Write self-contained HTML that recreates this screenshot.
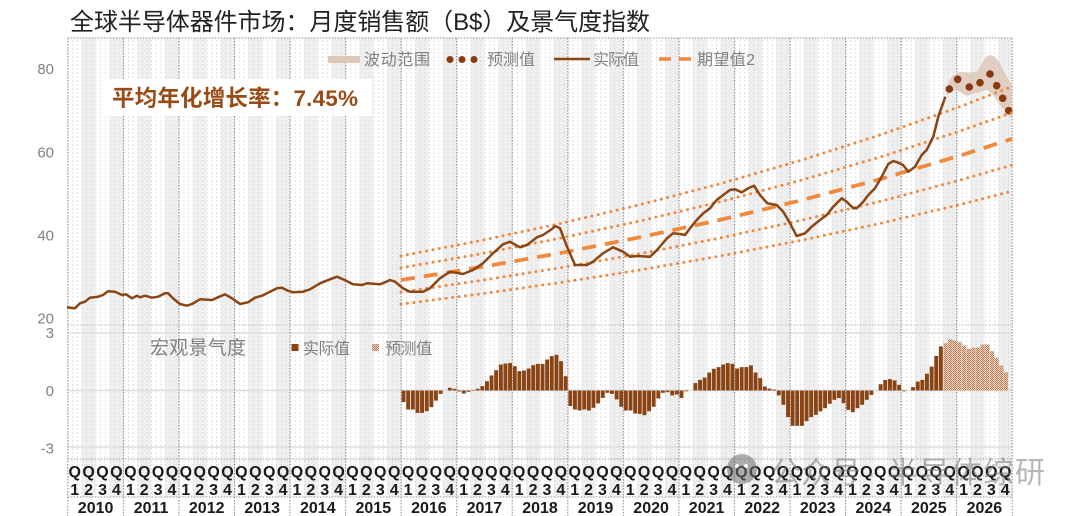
<!DOCTYPE html>
<html><head><meta charset="utf-8"><style>
html,body{margin:0;padding:0;background:#fff;}
svg{display:block;}
text{font-family:"Liberation Sans","Noto Sans CJK SC",sans-serif;}
</style></head><body>
<svg width="1080" height="516" viewBox="0 0 1080 516" xmlns="http://www.w3.org/2000/svg">
<defs>
<pattern id="qs" x="67.8" y="0" width="27.775" height="10" patternUnits="userSpaceOnUse"><rect x="13.8875" y="0" width="13.8875" height="10" fill="#efefef"/></pattern>
<pattern id="mg" x="67.8" y="0" width="4.632" height="4" patternUnits="userSpaceOnUse"><rect x="0" y="0" width="0.8" height="2" fill="#dadada"/></pattern>
<pattern id="hatch" x="0" y="0" width="2" height="2" patternUnits="userSpaceOnUse"><rect width="2" height="2" fill="#ecd3c2"/><rect width="1" height="1" fill="#b9784f"/><rect x="1" y="1" width="1" height="1" fill="#b9784f"/></pattern>
</defs>

<!-- title -->
<text x="70" y="30" font-size="24" fill="#222" textLength="580">全球半导体器件市场：月度销售额（B$）及景气度指数</text>

<!-- background stripes -->
<rect x="67.8" y="38" width="944.4" height="459" fill="url(#qs)"/>
<rect x="67.8" y="38" width="944.4" height="459" fill="url(#mg)"/>

<!-- horizontal lines -->
<line x1="67.8" y1="38" x2="1012.2" y2="38" stroke="#8c8c8c" stroke-width="1" stroke-dasharray="1.5 1.5"/>
<line x1="67.8" y1="325" x2="1012.2" y2="325" stroke="#bdbdbd" stroke-width="1" stroke-dasharray="1.5 1.5"/>
<line x1="67.8" y1="333" x2="1012.2" y2="333" stroke="#dedede" stroke-width="1.5"/>
<line x1="67.8" y1="390.5" x2="1012.2" y2="390.5" stroke="#dedede" stroke-width="1.5"/>
<line x1="67.8" y1="447" x2="1012.2" y2="447" stroke="#dedede" stroke-width="1.5"/>
<line x1="67.8" y1="459" x2="1012.2" y2="459" stroke="#9a9a9a" stroke-width="1" stroke-dasharray="1.5 1.5"/>
<line x1="67.8" y1="497" x2="1012.2" y2="497" stroke="#9a9a9a" stroke-width="1" stroke-dasharray="1.5 1.5"/>

<!-- year separators -->
<g stroke="#8c8c8c" stroke-width="1" stroke-dasharray="1.5 1.5">
<line x1="67.8" y1="38" x2="67.8" y2="516"/>
<line x1="123.4" y1="38" x2="123.4" y2="516"/>
<line x1="178.9" y1="38" x2="178.9" y2="516"/>
<line x1="234.5" y1="38" x2="234.5" y2="516"/>
<line x1="290.0" y1="38" x2="290.0" y2="516"/>
<line x1="345.6" y1="38" x2="345.6" y2="516"/>
<line x1="401.1" y1="38" x2="401.1" y2="516"/>
<line x1="456.7" y1="38" x2="456.7" y2="516"/>
<line x1="512.2" y1="38" x2="512.2" y2="516"/>
<line x1="567.8" y1="38" x2="567.8" y2="516"/>
<line x1="623.3" y1="38" x2="623.3" y2="516"/>
<line x1="678.9" y1="38" x2="678.9" y2="516"/>
<line x1="734.4" y1="38" x2="734.4" y2="516"/>
<line x1="790.0" y1="38" x2="790.0" y2="516"/>
<line x1="845.5" y1="38" x2="845.5" y2="516"/>
<line x1="901.1" y1="38" x2="901.1" y2="516"/>
<line x1="956.6" y1="38" x2="956.6" y2="516"/>
<line x1="1012.2" y1="38" x2="1012.2" y2="516"/>
</g>

<!-- y labels -->
<g font-size="15" fill="#808080" text-anchor="end">
<text x="54" y="74">80</text>
<text x="54" y="157.3">60</text>
<text x="54" y="240.5">40</text>
<text x="54" y="323.5">20</text>
<text x="54" y="338">3</text>
<text x="54" y="396">0</text>
<text x="54" y="453.5">-3</text>
</g>

<!-- legend top -->
<rect x="328" y="56" width="32" height="7" fill="#dcc8bb"/>
<text x="364" y="65" font-size="16" fill="#808080" textLength="66">波动范围</text>
<g fill="#8b3a0f"><circle cx="450" cy="59.5" r="3.5"/><circle cx="462" cy="59.5" r="3.5"/><circle cx="474" cy="59.5" r="3.5"/></g>
<text x="487" y="65" font-size="16" fill="#808080" textLength="48">预测值</text>
<line x1="554" y1="59" x2="590" y2="59" stroke="#8b4513" stroke-width="2.5"/>
<text x="593" y="65" font-size="16" fill="#808080" textLength="46">实际值</text>
<line x1="659" y1="59" x2="671" y2="59" stroke="#f0883e" stroke-width="3.5"/>
<line x1="679" y1="59" x2="691" y2="59" stroke="#f0883e" stroke-width="3.5"/>
<text x="697" y="65" font-size="16" fill="#808080" textLength="58">期望值2</text>

<!-- growth label -->
<rect x="104" y="79" width="268" height="37" fill="#fff"/>
<text x="112" y="106" font-size="22.5" font-weight="bold" fill="#9a4a14" textLength="246">平均年化增长率：7.45%</text>

<!-- forecast band -->
<path d="M946.7,86.7 L951.7,76.7 L960,71.7 L968,72.5 L976.7,71.7 L980,66.7 L986,56.7 L990,55 L995,56.7 L1000,63.3 L1006.7,76.7 L1011.7,85 L1011.7,118.3 L1006.7,113.3 L1000,105 L993.3,95 L986.7,90 L976.7,92.7 L966.7,96 L956.7,90 L950,93.3 L946.7,95 Z" fill="#dcc7b9" opacity="0.85"/>

<!-- forecast dots -->
<g fill="#8b3a0f">
<circle cx="949.3" cy="89" r="3.8"/>
<circle cx="957.7" cy="79.3" r="3.8"/>
<circle cx="969.3" cy="87" r="3.8"/>
<circle cx="980" cy="82.7" r="3.8"/>
<circle cx="990" cy="74" r="3.8"/>
<circle cx="996.7" cy="85.7" r="3.8"/>
<circle cx="1002.7" cy="98.3" r="3.8"/>
<circle cx="1008.7" cy="110.7" r="3.8"/>
</g>

<!-- trend lines -->
<g fill="none" stroke="#f0883e" stroke-width="3" stroke-linecap="round" stroke-dasharray="0 6.5">
<polyline points="401,255.9 480,240.7 560,223.6 640,204.7 720,183.8 800,160.6 880,135 960,106.6 1012,86.6"/>
<polyline points="401,267.9 480,254 560,238.3 640,221 720,201.8 800,180.6 880,157.1 960,131.1 1012,112.7"/>
<polyline points="401,292.1 480,280.6 560,267.8 640,253.7 720,238 800,220.6 880,201.4 960,180.1 1012,165.1"/>
<polyline points="401,304.1 480,294 560,282.6 640,270 720,256 800,240.6 880,223.5 960,204.6 1012,191.2"/>
</g>
<polyline fill="none" stroke="#f0883e" stroke-width="3.8" stroke-dasharray="14 9" points="401,280 480,267.3 560,253.1 640,237.3 720,219.9 800,200.6 880,179.2 960,155.6 1012,138.9"/>

<!-- actual line -->
<polyline fill="none" stroke="#8b4513" stroke-width="2.5" stroke-linejoin="round" stroke-linecap="round" points="68,307.5 75,308.3 80,303.3 85,301.7 90,297.7 98,296.7 103,295 108,291.3 115,291.7 122,295 126,294.3 132,298.3 137,295.7 140,297.3 145,295.7 152,297.7 158,296.7 165,293.3 168,293.3 173,298.3 180,304 187,305.7 192,304 200,299.3 212,300 217,297.7 225,294.3 232,298.3 240,304 248,302.3 255,297.7 262,295.7 270,291.7 277,288.3 282,287.7 288,290.7 293,292.3 303,291.7 310,289.3 320,283.3 330,279.3 337,276.7 343,279.3 353,284.3 362,285 367,283.3 380,284.3 385,282.3 390,280 395,281.7 403,288.3 410,291.7 423,291.7 430,288.3 440,278.3 450,271.7 463,274 473,270 483,263.3 493,253.3 503,244.3 510,241.7 520,247.3 527,245 537,237.3 543,235 552,229 555,226 560,228.3 567,246.7 575,265 587,265 593,261.7 603,253.3 613,247.3 623,251.7 630,256.7 637,256 650,256.7 657,250 667,238.3 673,233.3 680,234 685,235 690,228.3 696.7,220 703.3,213.3 710,208.3 716.7,200 723.3,195 730,190 735,189.3 741.7,192.3 748.3,188.3 754,185.7 760,195 767.3,203.3 776.7,205 783.3,211.7 790,223.3 796.7,236 805,233.3 811.7,226.7 820,220 826.7,215 833.3,206.7 841.7,198.3 846.7,201.7 853.3,208.3 856.7,208.3 863.3,201.7 868.3,195 875,188.3 881.7,176.7 888.3,164 893.3,161 898.3,162.7 903,165 908.3,171.7 915,166.7 921.7,155 926.7,150 933.3,136.7 938.3,116.7 945,97.7"/>

<!-- lower panel legend -->
<text x="150" y="354" font-size="19" fill="#808080" textLength="96">宏观景气度</text>
<rect x="291.5" y="344" width="7" height="7" fill="#8a4313"/>
<text x="303" y="354" font-size="16" fill="#808080" textLength="47">实际值</text>
<rect x="372" y="344" width="7" height="7" fill="url(#hatch)"/>
<text x="385" y="354" font-size="16" fill="#808080" textLength="47">预测值</text>

<!-- actual bars -->
<g fill="#8a4313">
<rect x="401.6" y="390.5" width="3.9" height="11.6"/>
<rect x="406.2" y="390.5" width="3.9" height="19"/>
<rect x="410.9" y="390.5" width="3.9" height="19"/>
<rect x="415.5" y="390.5" width="3.9" height="22.4"/>
<rect x="420.1" y="390.5" width="3.9" height="22.4"/>
<rect x="424.8" y="390.5" width="3.9" height="20.7"/>
<rect x="429.4" y="390.5" width="3.9" height="16.7"/>
<rect x="434.0" y="390.5" width="3.9" height="10.1"/>
<rect x="438.7" y="390.5" width="3.9" height="3.4"/>
<rect x="447.9" y="387.8" width="3.9" height="2.7"/>
<rect x="452.6" y="388.8" width="3.9" height="1.7"/>
<rect x="457.2" y="390.5" width="3.9" height="1"/>
<rect x="461.8" y="390.5" width="3.9" height="3"/>
<rect x="466.5" y="390.5" width="3.9" height="1.3"/>
<rect x="471.1" y="390.5" width="3.9" height="0.5"/>
<rect x="475.7" y="388.8" width="3.9" height="1.7"/>
<rect x="480.4" y="386.1" width="3.9" height="4.4"/>
<rect x="485.0" y="381.2" width="3.9" height="9.3"/>
<rect x="489.6" y="375.5" width="3.9" height="15"/>
<rect x="494.2" y="370.2" width="3.9" height="20.3"/>
<rect x="498.9" y="364.5" width="3.9" height="26"/>
<rect x="503.5" y="363.5" width="3.9" height="27"/>
<rect x="508.1" y="363.1" width="3.9" height="27.4"/>
<rect x="512.8" y="366.2" width="3.9" height="24.3"/>
<rect x="517.4" y="371.1" width="3.9" height="19.4"/>
<rect x="522.0" y="370.5" width="3.9" height="20"/>
<rect x="526.7" y="368.5" width="3.9" height="22"/>
<rect x="531.3" y="365.2" width="3.9" height="25.3"/>
<rect x="535.9" y="363.9" width="3.9" height="26.6"/>
<rect x="540.6" y="363.9" width="3.9" height="26.6"/>
<rect x="545.2" y="359.5" width="3.9" height="31"/>
<rect x="549.8" y="356.1" width="3.9" height="34.4"/>
<rect x="554.5" y="354.8" width="3.9" height="35.7"/>
<rect x="559.1" y="361.2" width="3.9" height="29.3"/>
<rect x="563.7" y="376.2" width="3.9" height="14.3"/>
<rect x="568.4" y="390.5" width="3.9" height="15.6"/>
<rect x="573.0" y="390.5" width="3.9" height="19"/>
<rect x="577.6" y="390.5" width="3.9" height="20"/>
<rect x="582.3" y="390.5" width="3.9" height="19"/>
<rect x="586.9" y="390.5" width="3.9" height="20"/>
<rect x="591.5" y="390.5" width="3.9" height="17.3"/>
<rect x="596.2" y="390.5" width="3.9" height="12.9"/>
<rect x="600.8" y="390.5" width="3.9" height="7.4"/>
<rect x="605.4" y="390.5" width="3.9" height="2.3"/>
<rect x="610.0" y="390.5" width="3.9" height="3.4"/>
<rect x="614.7" y="390.5" width="3.9" height="8.9"/>
<rect x="619.3" y="390.5" width="3.9" height="16.3"/>
<rect x="623.9" y="390.5" width="3.9" height="20"/>
<rect x="628.6" y="390.5" width="3.9" height="20"/>
<rect x="633.2" y="390.5" width="3.9" height="23"/>
<rect x="637.8" y="390.5" width="3.9" height="23.4"/>
<rect x="642.5" y="390.5" width="3.9" height="24.7"/>
<rect x="647.1" y="390.5" width="3.9" height="20.7"/>
<rect x="651.7" y="390.5" width="3.9" height="16.3"/>
<rect x="656.4" y="390.5" width="3.9" height="8"/>
<rect x="661.0" y="390.5" width="3.9" height="2.3"/>
<rect x="665.6" y="390.5" width="3.9" height="1.7"/>
<rect x="670.3" y="390.5" width="3.9" height="4.9"/>
<rect x="674.9" y="390.5" width="3.9" height="4"/>
<rect x="679.5" y="390.5" width="3.9" height="7.4"/>
<rect x="684.2" y="390.5" width="3.9" height="0.8"/>
<rect x="693.4" y="383.1" width="3.9" height="7.4"/>
<rect x="698.1" y="379.9" width="3.9" height="10.6"/>
<rect x="702.7" y="377.6" width="3.9" height="12.9"/>
<rect x="707.3" y="372.5" width="3.9" height="18"/>
<rect x="711.9" y="368.8" width="3.9" height="21.7"/>
<rect x="716.6" y="367.1" width="3.9" height="23.4"/>
<rect x="721.2" y="364.5" width="3.9" height="26"/>
<rect x="725.8" y="363.1" width="3.9" height="27.4"/>
<rect x="730.5" y="363.9" width="3.9" height="26.6"/>
<rect x="735.1" y="368.5" width="3.9" height="22"/>
<rect x="739.7" y="367.1" width="3.9" height="23.4"/>
<rect x="744.4" y="367.1" width="3.9" height="23.4"/>
<rect x="749.0" y="365.4" width="3.9" height="25.1"/>
<rect x="753.6" y="372.5" width="3.9" height="18"/>
<rect x="758.3" y="378.1" width="3.9" height="12.4"/>
<rect x="762.9" y="386.5" width="3.9" height="4"/>
<rect x="767.5" y="388.6" width="3.9" height="1.9"/>
<rect x="772.2" y="389.5" width="3.9" height="1"/>
<rect x="776.8" y="390.5" width="3.9" height="4.9"/>
<rect x="781.4" y="390.5" width="3.9" height="14.3"/>
<rect x="786.1" y="390.5" width="3.9" height="26.6"/>
<rect x="790.7" y="390.5" width="3.9" height="35.3"/>
<rect x="795.3" y="390.5" width="3.9" height="35.3"/>
<rect x="800.0" y="390.5" width="3.9" height="35.3"/>
<rect x="804.6" y="390.5" width="3.9" height="30.6"/>
<rect x="809.2" y="390.5" width="3.9" height="26.6"/>
<rect x="813.9" y="390.5" width="3.9" height="24.3"/>
<rect x="818.5" y="390.5" width="3.9" height="20.9"/>
<rect x="823.1" y="390.5" width="3.9" height="17.7"/>
<rect x="827.8" y="390.5" width="3.9" height="13.3"/>
<rect x="832.4" y="390.5" width="3.9" height="9.3"/>
<rect x="837.0" y="390.5" width="3.9" height="7.6"/>
<rect x="841.6" y="390.5" width="3.9" height="12.7"/>
<rect x="846.3" y="390.5" width="3.9" height="19.4"/>
<rect x="850.9" y="390.5" width="3.9" height="21.7"/>
<rect x="855.5" y="390.5" width="3.9" height="17.7"/>
<rect x="860.2" y="390.5" width="3.9" height="14.3"/>
<rect x="864.8" y="390.5" width="3.9" height="9.3"/>
<rect x="869.4" y="390.5" width="3.9" height="4.4"/>
<rect x="878.7" y="384.2" width="3.9" height="6.3"/>
<rect x="883.3" y="379.9" width="3.9" height="10.6"/>
<rect x="888.0" y="379.1" width="3.9" height="11.4"/>
<rect x="892.6" y="380.4" width="3.9" height="10.1"/>
<rect x="897.2" y="384.8" width="3.9" height="5.7"/>
<rect x="901.9" y="390.5" width="3.9" height="0.8"/>
<rect x="911.1" y="387.1" width="3.9" height="3.4"/>
<rect x="915.8" y="381.6" width="3.9" height="8.9"/>
<rect x="920.4" y="379.9" width="3.9" height="10.6"/>
<rect x="925.0" y="373.8" width="3.9" height="16.7"/>
<rect x="929.7" y="366.6" width="3.9" height="23.9"/>
<rect x="934.3" y="355.9" width="3.9" height="34.6"/>
<rect x="938.9" y="346.4" width="3.9" height="44.1"/>
</g>
<!-- forecast bars -->
<g fill="url(#hatch)">
<rect x="943.6" y="343.2" width="4.3" height="47.3"/>
<rect x="948.2" y="339.2" width="4.3" height="51.3"/>
<rect x="952.8" y="340.5" width="4.3" height="50"/>
<rect x="957.4" y="342.2" width="4.3" height="48.3"/>
<rect x="962.1" y="345.5" width="4.3" height="45"/>
<rect x="966.7" y="348.9" width="4.3" height="41.6"/>
<rect x="971.3" y="347.7" width="4.3" height="42.8"/>
<rect x="976.0" y="347.7" width="4.3" height="42.8"/>
<rect x="980.6" y="344.5" width="4.3" height="46"/>
<rect x="985.2" y="344.5" width="4.3" height="46"/>
<rect x="989.9" y="351.2" width="4.3" height="39.3"/>
<rect x="994.5" y="357.8" width="4.3" height="32.7"/>
<rect x="999.1" y="365.4" width="4.3" height="25.1"/>
<rect x="1003.8" y="372.3" width="4.3" height="18.2"/>
</g>

<!-- x axis table -->
<g font-size="16" font-weight="bold" fill="#1a1a1a" text-anchor="middle">
<text y="477" x="74.74 88.63 102.52 116.41 130.30 144.18 158.07 171.96 185.85 199.74 213.62 227.51 241.40 255.29 269.18 283.06 296.95 310.84 324.73 338.62 352.50 366.39 380.28 394.17 408.06 421.94 435.83 449.72 463.61 477.50 491.38 505.27 519.16 533.05 546.94 560.82 574.71 588.60 602.49 616.38 630.26 644.15 658.04 671.93 685.82 699.70 713.59 727.48 741.37 755.26 769.14 783.03 796.92 810.81 824.70 838.58 852.47 866.36 880.25 894.14 908.02 921.91 935.80 949.69 963.58 977.46 991.35 1005.24">QQQQQQQQQQQQQQQQQQQQQQQQQQQQQQQQQQQQQQQQQQQQQQQQQQQQQQQQQQQQQQQQQQQQ</text>
<text y="495" x="74.74 88.63 102.52 116.41 130.30 144.18 158.07 171.96 185.85 199.74 213.62 227.51 241.40 255.29 269.18 283.06 296.95 310.84 324.73 338.62 352.50 366.39 380.28 394.17 408.06 421.94 435.83 449.72 463.61 477.50 491.38 505.27 519.16 533.05 546.94 560.82 574.71 588.60 602.49 616.38 630.26 644.15 658.04 671.93 685.82 699.70 713.59 727.48 741.37 755.26 769.14 783.03 796.92 810.81 824.70 838.58 852.47 866.36 880.25 894.14 908.02 921.91 935.80 949.69 963.58 977.46 991.35 1005.24">12341234123412341234123412341234123412341234123412341234123412341234</text>
<text x="95.6" y="513">2010</text>
<text x="151.1" y="513">2011</text>
<text x="206.7" y="513">2012</text>
<text x="262.2" y="513">2013</text>
<text x="317.8" y="513">2014</text>
<text x="373.3" y="513">2015</text>
<text x="428.9" y="513">2016</text>
<text x="484.4" y="513">2017</text>
<text x="540.0" y="513">2018</text>
<text x="595.5" y="513">2019</text>
<text x="651.1" y="513">2020</text>
<text x="706.6" y="513">2021</text>
<text x="762.2" y="513">2022</text>
<text x="817.7" y="513">2023</text>
<text x="873.3" y="513">2024</text>
<text x="928.8" y="513">2025</text>
<text x="984.4" y="513">2026</text>
</g>

<!-- watermark -->
<g opacity="0.55">
<circle cx="742" cy="469" r="15" fill="#6e6e6e"/>
<circle cx="737" cy="466" r="2" fill="#fff"/>
<circle cx="746" cy="466" r="2" fill="#fff"/>
<text x="771" y="483" font-size="30" fill="#7a7a7a" textLength="90">公众号</text>
<text x="866" y="483" font-size="30" fill="#7a7a7a">·</text>
<text x="888" y="483" font-size="30" fill="#7a7a7a" textLength="157">半导体综研</text>
</g>
</svg>
</body></html>
